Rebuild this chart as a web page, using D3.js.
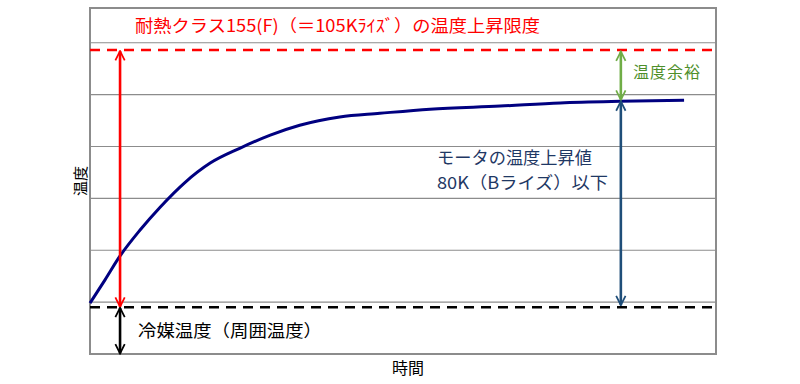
<!DOCTYPE html>
<html>
<head>
<meta charset="utf-8">
<script src="https://cdn.jsdelivr.net/npm/d3@7"></script>
<style>
  body { margin: 0; background: #fff; }
  text { font-family: "Noto Sans CJK JP", "Noto Sans", sans-serif; }
</style>
</head>
<body>
<div id="chart"></div>
<script>
// time (arbitrary units 0..100) and temperature (arbitrary grid units)
const curveTime = [0, 2.4, 4.8, 8.0, 11.2, 15.2, 19.2, 24.0, 28.8, 33.5, 39.9, 46.3, 54.3, 65.5, 75.1, 84.7, 94.9];
const curveTemp = [0.98, 1.43, 1.89, 2.39, 2.83, 3.31, 3.68, 3.97, 4.22, 4.41, 4.57, 4.64, 4.72, 4.78, 4.84, 4.87, 4.89];

const gridValues = [1, 2, 3, 4, 5, 6];
const ambientTemp = 0.9;   // 冷媒温度
const limitTemp = 5.86;    // 耐熱クラス上限
const plateauTemp = 4.89;
const arrowTimeLeft = 4.8;
const arrowTimeRight = 84.8;

const titleLabel = "耐熱クラス155(F)（＝105Kﾗｲｽﾞ）の温度上昇限度";
const marginLabel = "温度余裕";
const riseLabel = ["モータの温度上昇値", "80K（Bライズ）以下"];
const ambientLabel = "冷媒温度（周囲温度）";
const xLabel = "時間";
const yLabel = "温度";

const width = 800, height = 384;
const plot = { left: 90, right: 716, top: 8, bottom: 354 };

const svg = d3.select("#chart")
  .append("svg")
  .attr("width", width)
  .attr("height", height);

const x = d3.scaleLinear().domain([0, 100]).range([plot.left, plot.right]);
const y = d3.scaleLinear().domain([0, 6.67]).range([plot.bottom, plot.top]);

// arrow heads
const defs = svg.append("defs");
function addMarker(id, color) {
  defs.append("marker")
    .attr("id", id)
    .attr("viewBox", "0 0 10 10")
    .attr("refX", 9)
    .attr("refY", 5)
    .attr("markerWidth", 4.5)
    .attr("markerHeight", 4.5)
    .attr("markerUnits", "strokeWidth")
    .attr("orient", "auto-start-reverse")
    .append("path")
    .attr("d", "M1,1 L9,5 L1,9")
    .attr("fill", "none")
    .attr("stroke", color)
    .attr("stroke-width", 1.5);
}
addMarker("arrRed", "#FF0000");
addMarker("arrGreen", "#70AD47");
addMarker("arrNavy", "#1F4E79");
addMarker("arrBlack", "#000000");

// grid lines
svg.append("g")
  .selectAll("line")
  .data(gridValues)
  .join("line")
  .attr("x1", plot.left)
  .attr("x2", plot.right)
  .attr("y1", d => y(d))
  .attr("y2", d => y(d))
  .attr("stroke", "#8c8c8c")
  .attr("stroke-width", 1.2);

// frame
svg.append("rect")
  .attr("x", plot.left)
  .attr("y", plot.top)
  .attr("width", plot.right - plot.left)
  .attr("height", plot.bottom - plot.top)
  .attr("fill", "none")
  .attr("stroke", "#8c8c8c")
  .attr("stroke-width", 2);

// temperature curve
const pts = curveTime.map((t, i) => [t, curveTemp[i]]);
svg.append("path")
  .datum(pts)
  .attr("fill", "none")
  .attr("stroke", "#000080")
  .attr("stroke-width", 3)
  .attr("d", d3.line().x(d => x(d[0])).y(d => y(d[1])).curve(d3.curveMonotoneX));

// dashed limit lines
svg.append("line")
  .attr("x1", plot.left).attr("x2", plot.right)
  .attr("y1", y(limitTemp)).attr("y2", y(limitTemp))
  .attr("stroke", "#FF0000")
  .attr("stroke-width", 2.5)
  .attr("stroke-dasharray", "10,7");

svg.append("line")
  .attr("x1", plot.left).attr("x2", plot.right)
  .attr("y1", y(ambientTemp)).attr("y2", y(ambientTemp))
  .attr("stroke", "#000000")
  .attr("stroke-width", 2.5)
  .attr("stroke-dasharray", "10,7");

// arrows
function arrow(t, v0, v1, color, id) {
  svg.append("line")
    .attr("x1", x(t)).attr("x2", x(t))
    .attr("y1", y(v0)).attr("y2", y(v1))
    .attr("stroke", color)
    .attr("stroke-width", 2.6)
    .attr("marker-start", `url(#${id})`)
    .attr("marker-end", `url(#${id})`);
}
arrow(arrowTimeLeft, limitTemp - 0.02, ambientTemp + 0.01, "#FF0000", "arrRed");
arrow(arrowTimeLeft, ambientTemp - 0.01, 0.01, "#000000", "arrBlack");
arrow(arrowTimeRight, limitTemp - 0.03, plateauTemp + 0.01, "#70AD47", "arrGreen");
arrow(arrowTimeRight, plateauTemp - 0.02, ambientTemp + 0.04, "#1F4E79", "arrNavy");

// labels
svg.append("text")
  .attr("x", 135).attr("y", 32)
  .attr("fill", "#FF0000")
  .attr("textLength", 405)
  .attr("lengthAdjust", "spacingAndGlyphs")
  .style("font-size", "17px")
  .text(titleLabel);

svg.append("text")
  .attr("x", 633).attr("y", 78)
  .attr("fill", "#4E8F2A")
  .attr("textLength", 67)
  .style("font-size", "16px")
  .text(marginLabel);

const riseLengths = [155, 171];
svg.append("g")
  .selectAll("text")
  .data(riseLabel)
  .join("text")
  .attr("x", 437)
  .attr("y", (d, i) => 164 + i * 25)
  .attr("fill", "#1F3864")
  .attr("textLength", (d, i) => riseLengths[i])
  .attr("lengthAdjust", "spacingAndGlyphs")
  .style("font-size", "17px")
  .text(d => d);

svg.append("text")
  .attr("x", 138).attr("y", 337)
  .attr("fill", "#000")
  .attr("textLength", 184)
  .attr("lengthAdjust", "spacingAndGlyphs")
  .style("font-size", "17px")
  .text(ambientLabel);

svg.append("text")
  .attr("x", (plot.left + plot.right) / 2 + 5).attr("y", 374)
  .attr("text-anchor", "middle")
  .attr("fill", "#000")
  .style("font-size", "16px")
  .text(xLabel);

svg.append("text")
  .attr("transform", `translate(86,${(plot.top + plot.bottom) / 2}) rotate(-90)`)
  .attr("text-anchor", "middle")
  .attr("fill", "#000")
  .style("font-size", "15px")
  .text(yLabel);
</script>
</body>
</html>
